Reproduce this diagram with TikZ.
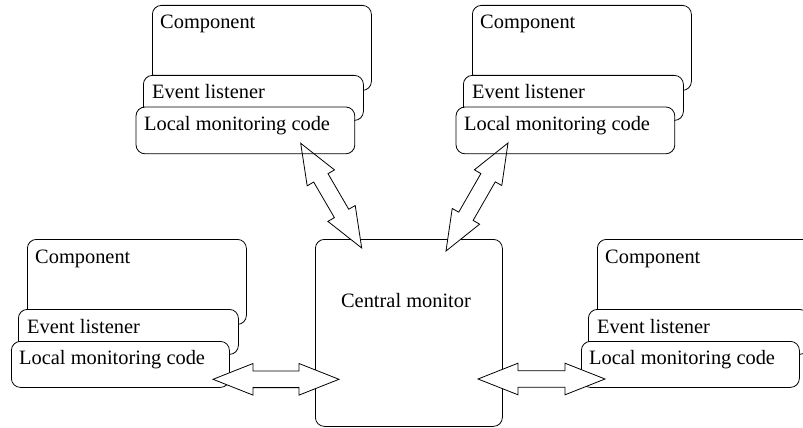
\documentclass[tikz,border=0pt]{standalone}
\usepackage{fontspec}
\newfontfamily\tnrfont{Liberation Serif}
\usetikzlibrary{calc}
\tikzset{
  box/.style={draw, fill=white, rounded corners=9pt, line width=0.8pt, anchor=north west, inner sep=0pt},
  lbl/.style={anchor=base west, inner sep=0pt, font=\tnrfont\fontsize{20.4}{24}\selectfont},
  fat/.style={draw, fill=white, line width=0.8pt, line join=miter},
  outline/.style={draw, rounded corners=9pt, line width=0.8pt},
}
\newcommand\compgroup[4]{%
  \node[box, minimum width=219pt, minimum height=85pt] (#1c) at (#2,#3) {};
  \node[lbl] (#1ct) at ($(#1c.north west)+(8,24)$) {Component};
  \node[box, minimum width=220pt, minimum height=45pt] (#1e) at ($(#1c.north west)+(-9,70)$) {};
  \node[lbl] (#1et) at ($(#1e.north west)+(9,24)$) {Event listener};
  \node[box, minimum width=218pt, minimum height=46pt, #4] (#1l) at ($(#1c.north west)+(-16,102)$) {};
  \node[lbl] (#1lt) at ($(#1l.north west)+(8,23)$) {Local monitoring code};
}
\newcommand\fatarrow[3]{%
  \coordinate (#1ha) at ($(#2)!40pt!(#3)$);
  \coordinate (#1hb) at ($(#3)!40pt!(#2)$);
  \draw[fat] (#2) -- ($(#1ha)!15.8pt!90:(#3)$) -- ($(#1ha)!8.3pt!90:(#3)$)
    -- ($(#1hb)!8.3pt!-90:(#2)$) -- ($(#1hb)!15.8pt!-90:(#2)$) -- (#3)
    -- ($(#1hb)!15.8pt!90:(#2)$) -- ($(#1hb)!8.3pt!90:(#2)$)
    -- ($(#1ha)!8.3pt!-90:(#3)$) -- ($(#1ha)!15.8pt!-90:(#3)$) -- cycle;
}
\begin{document}
\begin{tikzpicture}[x=1pt,y=-1pt]
  \clip (0,0) rectangle (803,428);
  \compgroup{tl}{152}{5}{draw=none}
  \compgroup{tr}{472}{5}{draw=none}
  \compgroup{bl}{27}{239}{}
  \compgroup{br}{597}{239}{}
  \node[box, minimum width=187pt, minimum height=187pt] (cm) at (315,239) {};
  \node[lbl, anchor=base] (cmt) at (406,307) {Central monitor};
  % arrow end points
  \coordinate (a1s) at (300.7,143.3);
  \coordinate (a1e) at (361.7,248);
  \coordinate (a2s) at (508,143);
  \coordinate (a2e) at (446,251);
  \coordinate (a3s) at (213,379.3);
  \coordinate (a3e) at (339,379.3);
  \coordinate (a4s) at (478,379);
  \coordinate (a4e) at (605,379);
  \fatarrow{a1}{a1s}{a1e}
  \fatarrow{a2}{a2s}{a2e}
  \fatarrow{a3}{a3s}{a3e}
  \fatarrow{a4}{a4s}{a4e}
  % outlines of the upper local boxes show through the arrow tips
  \draw[outline] (tll.north west) rectangle (tll.south east);
  \draw[outline] (trl.north west) rectangle (trl.south east);
\end{tikzpicture}
\end{document}
